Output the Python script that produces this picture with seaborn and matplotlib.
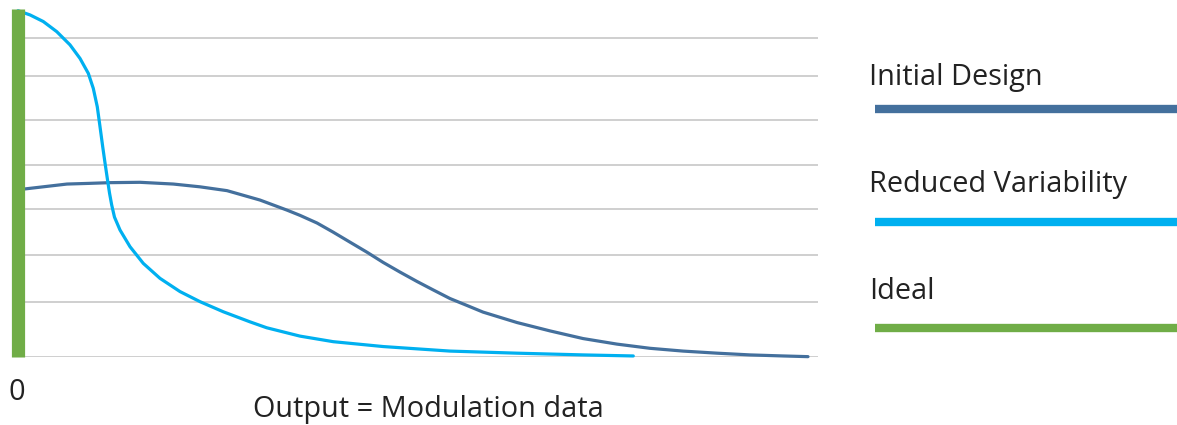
import numpy as np
import pandas as pd
import matplotlib.pyplot as plt
import seaborn as sns

# series (x: output, y: frequency, both on a 0-100 scale)
series_names = ['Initial Design', 'Reduced Variability', 'Ideal']
series_colors = ['#44709D', '#00B0F0', '#70AD47']

initial_x = [0.88, 6.13, 9.0, 11.5, 15.25, 19.41, 22.75, 26.13, 30.25, 33.63, 35.25,
             37.38, 39.38, 41.5, 43.63, 45.63, 47.75, 49.88, 51.88, 54.0, 56.13, 58.13,
             60.25, 62.38, 66.5, 70.63, 74.88, 79.0, 83.13, 87.38, 91.5, 95.63, 98.75]
initial_y = [48.3, 49.7, 49.9, 50.1, 50.2, 49.7, 48.9, 47.8, 45.1, 42.2, 40.7,
             38.5, 35.9, 33.0, 30.1, 27.2, 24.4, 21.7, 19.3, 16.8, 14.8, 12.9,
             11.4, 9.9, 7.5, 5.3, 3.7, 2.5, 1.7, 1.1, 0.6, 0.3, 0.1]

reduced_x = [0.0, 1.5, 3.16, 4.84, 6.5, 7.75, 8.79, 9.41, 9.91, 10.25, 10.59, 10.88,
             11.19, 11.44, 11.71, 12.06, 12.75, 14.0, 15.66, 17.75, 20.25, 22.75, 25.66,
             29.0, 31.09, 35.25, 39.41, 45.66, 54.0, 62.34, 70.66, 76.91]
reduced_y = [99.5, 98.3, 96.4, 93.5, 89.7, 85.8, 81.5, 77.2, 71.9, 66.2, 60.4, 55.7,
             50.9, 47.1, 43.7, 40.2, 36.5, 31.7, 26.9, 22.6, 18.8, 15.9, 13.0,
             10.1, 8.4, 6.0, 4.4, 3.0, 1.7, 1.1, 0.6, 0.3]

ideal_x = [0.0, 0.0]
ideal_y = [0.0, 100.0]

grid_y = [0.0, 15.8, 29.3, 42.5, 55.2, 68.1, 80.7, 91.7]

x_label = 'Output = Modulation data'
x_tick = '0'

sns.set_style('white')
plt.rcParams['font.family'] = ['Open Sans', 'DejaVu Sans']

fig = plt.figure(figsize=(11.77, 4.25), dpi=100)
W, H = 1177, 425
ax = fig.add_axes([12 / W, (H - 357) / H, 806 / W, 348 / H])
ax.set_xlim(-0.75, 100)
ax.set_ylim(0, 100)

ax.set_yticks(grid_y)
ax.set_xticks([])
ax.yaxis.grid(True, color='#CFCFCF', linewidth=1.4)
ax.tick_params(left=False, labelleft=False)
sns.despine(ax=ax, left=True, bottom=True, top=True, right=True)

df_init = pd.DataFrame({'x': initial_x, 'y': initial_y})
df_red = pd.DataFrame({'x': reduced_x, 'y': reduced_y})
df_ideal = pd.DataFrame({'x': ideal_x, 'y': ideal_y})

sns.lineplot(data=df_init, x='x', y='y', ax=ax, color=series_colors[0], linewidth=2.3,
             sort=False, estimator=None, clip_on=False)
sns.lineplot(data=df_red, x='x', y='y', ax=ax, color=series_colors[1], linewidth=2.3,
             sort=False, estimator=None, clip_on=False)
sns.lineplot(data=df_ideal, x='x', y='y', ax=ax, color=series_colors[2], linewidth=9.5,
             sort=False, estimator=None, clip_on=False, solid_capstyle='butt')
ax.set_xlabel('')
ax.set_ylabel('')

# axis texts
txt_color = '#222222'
fs = 20.8
fig.text(17 / W, 1 - 400 / H, x_tick, fontsize=fs, ha='center', va='baseline', color=txt_color)
fig.text(428 / W, 1 - 417 / H, x_label, fontsize=fs,
         ha='center', va='baseline', color=txt_color)

# legend on the right
leg = fig.add_axes([875 / W, 0, (W - 875) / W, 1])
leg.set_xlim(0, 1)
leg.set_ylim(H, 0)
leg.axis('off')
text_base = [85, 192, 299]
line_y = [109, 222, 328]
for name, col, tb, ly in zip(series_names, series_colors, text_base, line_y):
    leg.text(-6 / (W - 875), tb, name, fontsize=fs, ha='left', va='baseline', color=txt_color)
    leg.plot([0, 1.02], [ly, ly], color=col, linewidth=6, solid_capstyle='butt', clip_on=False)

fig.savefig('out.png', dpi=100)
